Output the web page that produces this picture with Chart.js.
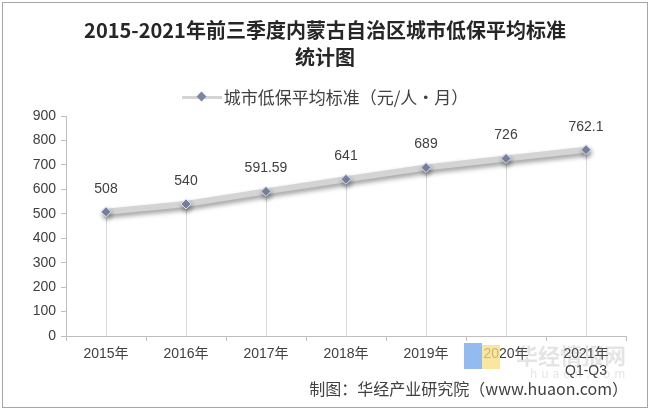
<!DOCTYPE html>
<html>
<head>
<meta charset="utf-8">
<script src="https://cdn.jsdelivr.net/npm/chart.js@4.4.0/dist/chart.umd.min.js"></script>
<style>
  body { margin: 0; width: 650px; height: 410px; position: relative; background: #fff; overflow: hidden; font-family: "Noto Sans CJK SC", sans-serif; }
  #frame { position: absolute; left: 2px; top: 2px; width: 644px; height: 404px; border: 1px solid #a6a6a6; pointer-events: none; }
  #chart { position: absolute; left: 0; top: 0; }
  .title { position: absolute; left: 0; width: 650px; text-align: center; font-size: 20px; font-weight: bold; color: #262626; line-height: 27px; }
  #legend { position: absolute; top: 85px; left: 0; width: 650px; text-align: center; font-size: 17px; color: #404040; line-height: 24px; }
  #legend .mark { display: inline-block; position: relative; width: 40px; height: 24px; vertical-align: top; margin-right: 2px; }
  #legend .mark i { position: absolute; left: 0; top: 11px; width: 40px; height: 3px; background: #d4d4d4; }
  #legend .mark b { position: absolute; left: 16px; top: 8px; width: 7px; height: 7px; background: #7a86a8; transform: rotate(45deg); }
  #source { position: absolute; right: 22px; top: 377px; font-size: 16px; color: #404040; line-height: 22px; }
  #wm { position: absolute; left: 516px; top: 341px; font-size: 22px; font-weight: bold; color: rgba(120,120,120,0.2); line-height: 26px; }
  #wm2 { position: absolute; left: 530px; top: 364px; font-size: 12px; color: rgba(120,120,120,0.2); letter-spacing: 4px; }
  #logo1 { position: absolute; left: 464px; top: 343px; width: 18px; height: 26px; background: rgba(120,170,235,0.8); }
  #logo2 { position: absolute; left: 482px; top: 345px; width: 18px; height: 24px; background: rgba(250,222,130,0.75); }
</style>
</head>
<body>
<canvas id="chart" width="650" height="410"></canvas>
<div class="title" style="top:16px">2015-2021年前三季度内蒙古自治区城市低保平均标准</div>
<div class="title" style="top:43px">统计图</div>
<div id="legend"><span class="mark"><i></i><b></b></span>城市低保平均标准（元/人・月）</div>
<div id="logo1"></div><div id="logo2"></div>
<div id="wm">华经情报网</div>
<div id="wm2">huaon.com</div>
<div id="source">制图：华经产业研究院（www.huaon.com）</div>
<div id="frame"></div>
<script>
// data
const years = ['2015年', '2016年', '2017年', '2018年', '2019年', '2020年', ['2021年', 'Q1-Q3']];
const standard = [508, 540, 591.59, 641, 689, 726, 762.1];
const yTicks = [0, 100, 200, 300, 400, 500, 600, 700, 800, 900];

const textColor = '#404040';
const axisColor = '#bfbfbf';

// drop lines, line shadow and value labels
const decor = {
    id: 'decor',
    beforeDatasetsDraw(chart) {
        const ctx = chart.ctx;
        const meta = chart.getDatasetMeta(0);
        const bottom = chart.chartArea.bottom;
        ctx.save();
        ctx.strokeStyle = '#d9d9d9';
        ctx.lineWidth = 1;
        meta.data.forEach((pt) => {
            const x = Math.round(pt.x) + 0.5;
            ctx.beginPath();
            ctx.moveTo(x, pt.y);
            ctx.lineTo(x, bottom);
            ctx.stroke();
        });
        ctx.restore();
        ctx.save();
        ctx.shadowColor = 'rgba(0,0,0,0.4)';
        ctx.shadowBlur = 5;
        ctx.shadowOffsetY = 3;
        ctx.shadowOffsetX = 1;
    },
    afterDatasetsDraw(chart) {
        const ctx = chart.ctx;
        ctx.restore();
        const meta = chart.getDatasetMeta(0);
        ctx.save();
        ctx.font = '14px "Liberation Sans", Arial, sans-serif';
        ctx.fillStyle = textColor;
        ctx.textAlign = 'center';
        ctx.textBaseline = 'middle';
        meta.data.forEach((pt, i) => {
            ctx.fillText(String(standard[i]), pt.x, pt.y - 23);
        });
        ctx.restore();
    }
};

new Chart(document.getElementById('chart'), {
    type: 'line',
    data: {
        labels: years,
        datasets: [{
            data: standard,
            borderColor: '#d4d4d4',
            borderWidth: 6,
            tension: 0,
            pointStyle: 'rectRot',
            pointRadius: 5,
            pointBackgroundColor: '#7a86a8',
            pointBorderColor: '#dfe2ec',
            pointBorderWidth: 1,
            fill: false
        }]
    },
    options: {
        responsive: false,
        animation: false,
        events: [],
        layout: { padding: { top: 116, right: 24, bottom: 0, left: 0 } },
        plugins: {
            legend: { display: false },
            title: { display: false },
            tooltip: { enabled: false }
        },
        scales: {
            x: {
                offset: true,
                grid: { drawOnChartArea: false, offset: true, tickLength: 5, color: axisColor },
                border: { color: axisColor },
                ticks: {
                    color: textColor,
                    padding: 5,
                    maxRotation: 0,
                    font: { family: '"Liberation Sans", "Noto Sans CJK SC", sans-serif', size: 14, lineHeight: 1.2 }
                },
                afterFit(scale) { scale.height = 74; }
            },
            y: {
                min: 0,
                max: 900,
                afterBuildTicks(scale) { scale.ticks = yTicks.map(v => ({ value: v })); },
                grid: { drawOnChartArea: false, tickLength: 5, color: axisColor },
                border: { color: axisColor },
                ticks: {
                    color: textColor,
                    padding: 5,
                    font: { family: '"Liberation Sans", Arial, sans-serif', size: 14 }
                },
                afterFit(scale) { scale.width = 66; }
            }
        }
    },
    plugins: [decor]
});
</script>
</body>
</html>
